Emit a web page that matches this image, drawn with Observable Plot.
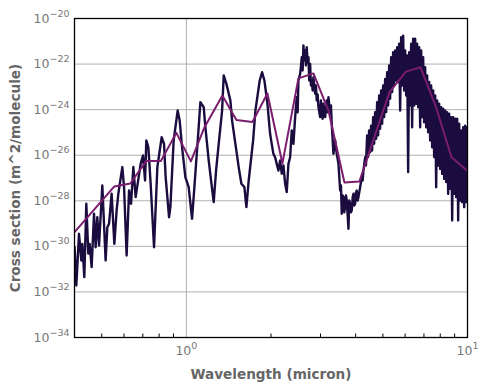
<!DOCTYPE html>
<html>
<head>
<meta charset="utf-8">
<script src="https://cdn.jsdelivr.net/npm/d3@7"></script>
<script src="https://cdn.jsdelivr.net/npm/@observablehq/plot@0.6"></script>
<style>
  html, body { margin: 0; padding: 0; background: #fff; }
  svg { font-family: "DejaVu Sans", sans-serif; }
  g[aria-label$="axis label"] text { font-weight: bold; font-size: 13.6px; fill: #666; }
</style>
</head>
<body>
<div id="chart"></div>
<script>
// High-resolution cross section: log10(wavelength / micron) and log10(sigma / m^2 molecule^-1)
const spectrumLog10Wavelength = [
-0.3975,-0.3915,-0.3819,-0.3737,-0.3701,-0.3630,-0.3559,-0.3488,-0.3442,-0.3370,-0.3285,-0.3228,-0.3168,-0.3107,-0.2990,-0.2872,-0.2812,-0.2751,-0.2659,-0.2562,-0.2481,-0.2420,-0.2278,-0.2217,-0.2125,-0.2039,-0.1968,-0.1886,-0.1804,-0.1626,-0.1541,-0.1470,-0.1424,-0.1352,-0.1271,-0.1150,-0.1032,-0.0879,-0.0794,-0.0737,-0.0616,
-0.0569,-0.0452,-0.0310,-0.0238,-0.0153,-0.0036,0.0082,0.0203,0.0285,0.0438,0.0498,0.0616,0.0676,0.0794,0.0879,0.0972,0.1057,0.1150,0.1271,0.1328,0.1424,0.1566,0.1626,0.1744,0.1861,0.1957,0.2064,0.2135,0.2217,0.2374,0.2456,0.2609,0.2694,0.2776,
0.2883,0.2979,0.3036,0.3096,0.3157,0.3214,0.3274,0.3335,0.3392,0.3452,0.3513,0.3570,0.3630,0.3691,0.3748,0.3808,0.3869,0.3926,0.3958,0.3986,0.4047,0.4075,0.4104,0.4136,0.4164,0.4193,0.4224,0.4253,0.4282,0.4313,0.4342,0.4370,0.4402,0.4431,0.4459,0.4491,0.4520,0.4580,0.4609,0.4637,0.4669,0.4698,0.4758,0.4787,0.4815,0.4847,0.4876,0.4936,0.4993,0.5025,0.5054,0.5114,0.5143,0.5171,0.5232,0.5292,0.5349,0.5410,0.5470,0.5499,0.5527,0.5559,0.5588,0.5616,0.5648,0.5677,0.5705,0.5737,0.5766,0.5794,0.5826,0.5855,0.5883,0.5915,0.5944,0.5972,0.6004,0.6033,0.6061,0.6093,0.6121,0.6182,0.6239,0.6271,0.6299,0.6360,0.6388,
0.6430,0.6465,0.6501,0.6537,0.6572,0.6608,0.6643,0.6679,0.6714,0.6750,0.6786,0.6821,0.6857,0.6892,0.6928,0.6964,0.6999,0.7035,0.7070,0.7106,0.7142,0.7177,0.7213,0.7248,0.7284,0.7320,0.7355,0.7391,0.7426,0.7462,0.7497,0.7533,0.7569,0.7604,0.7640,0.7675,0.7711,0.7747,0.7782,0.7818,0.7853,0.7889,0.7925,0.7960,0.7996,0.8031,0.8067,0.8102,0.8138,0.8174,0.8209,0.8245,0.8280,0.8316,0.8352,0.8387,0.8423,0.8458,0.8494,0.8530,0.8565,0.8601,0.8636,0.8672,0.8707,0.8743,0.8779,0.8814,0.8850,0.8885,0.8921,0.8957,0.8992,0.9028,0.9063,0.9099,0.9135,0.9170,0.9206,0.9241,0.9277,0.9312,0.9348,0.9384,0.9419,0.9455,0.9490,0.9526,0.9562,0.9597,0.9633,0.9668,0.9704,0.9740,0.9775,0.9811,0.9846,0.9882,0.9917,0.9953,0.9989,1.0024
];
const spectrumLog10Sigma = [
-30.05,-31.72,-29.45,-30.62,-29.89,-31.35,-28.13,-30.32,-29.89,-30.91,-28.57,-30.04,-28.72,-29.96,-27.33,-30.62,-29.16,-29.01,-27.69,-29.89,-28.42,-27.69,-26.52,-27.40,-30.40,-27.55,-28.13,-26.52,-27.84,-26.38,-26.01,-27.11,-25.35,-25.65,-27.25,-30.04,-26.52,-25.21,-25.50,-26.96,-28.72,
-28.28,-25.35,-24.04,-24.48,-25.65,-26.96,-27.40,-28.79,-27.40,-24.77,-23.67,-23.89,-24.77,-26.23,-27.11,-28.06,-26.67,-25.50,-24.04,-22.50,-22.87,-23.60,-24.48,-25.50,-26.52,-27.25,-27.40,-28.28,-27.11,-25.35,-24.04,-22.72,-22.36,-22.72,
-23.74,-25.06,-25.50,-25.94,-26.09,-26.38,-26.67,-26.23,-26.81,-26.45,-27.25,-27.62,-26.38,-26.09,-24.91,-25.50,-24.33,-23.45,-24.12,-22.72,-22.43,-22.11,-21.70,-22.28,-21.18,-21.84,-21.40,-22.06,-21.26,-21.93,-21.70,-22.72,-21.99,-22.94,-22.72,-23.16,-22.58,-23.30,-22.94,-23.60,-23.33,-23.89,-24.33,-23.60,-24.04,-24.40,-23.74,-24.33,-23.60,-24.12,-23.45,-24.18,-23.82,-24.62,-25.94,-25.35,-25.94,-26.38,-27.55,-27.33,-28.57,-27.77,-27.84,-28.51,-28.28,-27.77,-27.99,-28.64,-29.23,-27.99,-28.13,-28.51,-28.42,-27.85,-27.69,-28.21,-28.13,-27.64,-27.55,-27.99,-27.84,-27.40,-26.96,-27.11,-26.67,-26.09,-26.45,
-25.13,-26.08,-24.91,-25.87,-24.70,-25.79,-24.33,-25.50,-24.11,-25.28,-23.67,-25.13,-23.38,-24.84,-23.16,-24.62,-22.94,-24.33,-22.65,-24.11,-22.36,-23.82,-22.06,-23.52,-21.70,-23.23,-21.48,-22.94,-21.40,-22.72,-21.26,-22.79,-21.11,-24.04,-20.82,-22.94,-20.75,-23.16,-21.40,-23.38,-21.62,-26.74,-21.48,-23.82,-21.11,-24.77,-20.89,-23.82,-20.89,-23.74,-21.11,-23.89,-21.26,-24.77,-21.40,-24.33,-21.70,-24.55,-22.14,-24.77,-22.50,-24.99,-22.79,-25.35,-22.94,-25.65,-23.16,-26.08,-23.38,-27.40,-23.60,-26.45,-23.74,-26.60,-23.89,-26.82,-23.96,-27.04,-24.04,-27.18,-24.11,-27.69,-24.18,-27.47,-24.33,-28.86,-24.33,-27.69,-24.40,-27.84,-24.40,-28.86,-24.62,-27.99,-24.91,-28.06,-24.77,-28.28,-24.70,-28.06,-24.77,-27.99
];
// Binned cross section
const binnedLog10Wavelength = [-0.3986,-0.2562,-0.1993,-0.1424,-0.0908,-0.0356,0.0160,0.0641,0.1281,0.1780,0.2349,0.2883,0.3417,0.3986,0.4520,0.5054,0.5623,0.6157,0.7224,0.7812,0.8328,0.8862,0.9431,1.0];
const binnedLog10Sigma = [-29.39,-27.37,-27.24,-26.25,-26.25,-25.02,-26.27,-24.78,-23.38,-24.45,-24.54,-23.29,-26.36,-22.63,-22.41,-24.04,-27.20,-27.15,-23.23,-22.33,-22.14,-23.82,-26.09,-26.69];

const xTicks = [1, 10];
const xMinorTicks = [0.5, 0.6, 0.7, 0.8, 0.9, 2, 3, 4, 5, 6, 7, 8, 9];
const yTicks = [1e-34, 1e-32, 1e-30, 1e-28, 1e-26, 1e-24, 1e-22, 1e-20];

const spectrum = spectrumLog10Wavelength.map((w, i) => ({x: 10 ** w, y: 10 ** spectrumLog10Sigma[i]}));
const binned = binnedLog10Wavelength.map((w, i) => ({x: 10 ** w, y: 10 ** binnedLog10Sigma[i]}));

const expFormat = d => `10^${Math.round(Math.log10(d))}`;

const chart = Plot.plot({
  width: 489,
  height: 390,
  marginLeft: 74,
  marginRight: 22,
  marginTop: 18,
  marginBottom: 53,
  style: {fontFamily: "DejaVu Sans", fontSize: "12.5px", background: "white"},
  x: {type: "log", domain: [0.4, 10]},
  y: {type: "log", domain: [1e-34, 1e-20]},
  marks: [
    Plot.gridY(yTicks, {stroke: "#b0b0b0", strokeOpacity: 1, strokeWidth: 1}),
    Plot.gridX([1], {stroke: "#b0b0b0", strokeOpacity: 1, strokeWidth: 1}),
    Plot.line(spectrum, {x: "x", y: "y", stroke: "#1a0c3e", strokeWidth: 2.4, clip: true}),
    Plot.line(binned, {x: "x", y: "y", stroke: "#7b1d6e", strokeWidth: 2, clip: true}),
    Plot.frame({stroke: "black", strokeWidth: 1.3}),
    Plot.axisX(xMinorTicks, {tickSize: -3.5, tickFormat: () => "", label: null, stroke: "black"}),
    Plot.axisX(xTicks, {tickSize: 0, tickPadding: 9, tickFormat: expFormat, color: "#777",
      label: "Wavelength (micron)", labelAnchor: "center", labelArrow: "none", labelOffset: 41}),
    Plot.axisY(yTicks, {tickSize: 0, tickPadding: 5, tickFormat: expFormat, color: "#777",
      label: "Cross section (m^2/molecule)", labelAnchor: "center", labelArrow: "none", labelOffset: 64})
  ]
});

// superscripts for tick labels
const ns = "http://www.w3.org/2000/svg";
chart.querySelectorAll('g[aria-label$="tick label"] text').forEach(t => {
  const s = t.textContent;
  if (!s.includes("^")) return;
  const [base, exp] = s.split("^");
  t.textContent = "";
  const a = document.createElementNS(ns, "tspan");
  a.textContent = base;
  const b = document.createElementNS(ns, "tspan");
  b.textContent = exp.replace("-", "\u2212");
  b.setAttribute("font-size", "9.5");
  b.setAttribute("dy", "-6");
  t.append(a, b);
});

document.getElementById("chart").append(chart);
</script>
</body>
</html>
